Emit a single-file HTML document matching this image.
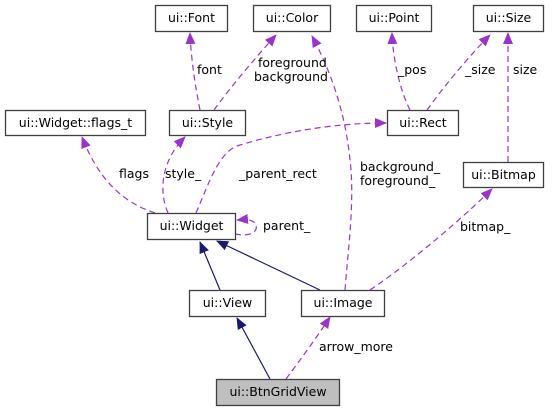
<!DOCTYPE html>
<html><head><meta charset="utf-8"><style>
html,body{margin:0;padding:0;background:#fff;}
svg{display:block;font-family:"DejaVu Sans","Liberation Sans",sans-serif;font-size:12.5px;}
</style></head><body>
<svg width="559" height="411" viewBox="0 0 559 411" xmlns="http://www.w3.org/2000/svg">
<defs>
<marker id="p" markerWidth="12" markerHeight="10" refX="11" refY="5" orient="auto" markerUnits="userSpaceOnUse"><path d="M0,0 L12,5 L0,10 z" fill="#9a32cd"/></marker>
<marker id="n" markerWidth="12" markerHeight="10" refX="11" refY="5" orient="auto" markerUnits="userSpaceOnUse"><path d="M0,0 L12,5 L0,10 z" fill="#191970"/></marker>
</defs>
<g fill="none" stroke="#9a32cd" stroke-width="1.2" stroke-dasharray="6,4">
<path d="M200,110 C196,90 191,60 190,33" marker-end="url(#p)"/>
<path d="M214,110 C232,85 258,55 276,35" marker-end="url(#p)"/>
<path d="M155,213 C115,200 95,170 82,137" marker-end="url(#p)"/>
<path d="M168,213 C158,190 162,160 185,137" marker-end="url(#p)"/>
<path d="M196,213 C210,180 220,150 240,145 C290,130 340,123 386,123" marker-end="url(#p)"/>
<path d="M410,110 C400,90 393,60 392,33" marker-end="url(#p)"/>
<path d="M427,110 C445,85 470,55 490,35" marker-end="url(#p)"/>
<path d="M508,162 L508,33" marker-end="url(#p)"/>
<path d="M345,290 C348,250 355,200 350,160 C345,110 330,70 312,36" marker-end="url(#p)"/>
<path d="M370,290 C400,270 450,230 492,189" marker-end="url(#p)"/>
<path d="M235,234 C250,237 258,232 256,225 C254,220 248,219 237,220" marker-end="url(#p)"/>
<path d="M286,379 C300,360 315,340 330,317" marker-end="url(#p)"/>
</g>
<g fill="none" stroke="#191970" stroke-width="1.2">
<path d="M220,290 L200,242" marker-end="url(#n)"/>
<path d="M320,290 L217,241" marker-end="url(#n)"/>
<path d="M270,379 L237,318" marker-end="url(#n)"/>
</g>
<g stroke="#404040" stroke-width="1.3" fill="#fff">
<rect x="155.5" y="5.5" width="72" height="26"/>
<rect x="253.5" y="5.5" width="77" height="26"/>
<rect x="356.5" y="5.5" width="75" height="26"/>
<rect x="473.5" y="5.5" width="70" height="26"/>
<rect x="5.5" y="110.5" width="140" height="25"/>
<rect x="169.5" y="110.5" width="76" height="25"/>
<rect x="387.5" y="110.5" width="71" height="25"/>
<rect x="463.5" y="162.5" width="80" height="25"/>
<rect x="147.5" y="213.5" width="88" height="26"/>
<rect x="189.5" y="290.5" width="76" height="26"/>
<rect x="301.5" y="290.5" width="83" height="26"/>
<rect x="216.5" y="379.5" width="123" height="26" fill="#bfbfbf"/>
</g>
<g fill="#000" text-anchor="middle">
<text x="191.5" y="22">ui::Font</text>
<text x="292" y="22">ui::Color</text>
<text x="394" y="22">ui::Point</text>
<text x="508.5" y="22">ui::Size</text>
<text x="75.5" y="127">ui::Widget::flags_t</text>
<text x="207.5" y="127">ui::Style</text>
<text x="423" y="127">ui::Rect</text>
<text x="503.5" y="179">ui::Bitmap</text>
<text x="191.5" y="230">ui::Widget</text>
<text x="227.5" y="307">ui::View</text>
<text x="343" y="307">ui::Image</text>
<text x="278" y="396">ui::BtnGridView</text>
</g>
<g fill="#000">
<text x="197" y="74">font</text>
<text x="258" y="67">foreground</text>
<text x="254" y="81">background</text>
<text x="398" y="74">_pos</text>
<text x="465" y="74">_size</text>
<text x="513" y="74">size</text>
<text x="119" y="178">flags</text>
<text x="165" y="178">style_</text>
<text x="239" y="178">_parent_rect</text>
<text x="360" y="171">background_</text>
<text x="360" y="185">foreground_</text>
<text x="460" y="231">bitmap_</text>
<text x="263" y="230">parent_</text>
<text x="319" y="351">arrow_more</text>
</g>
</svg>
</body></html>
